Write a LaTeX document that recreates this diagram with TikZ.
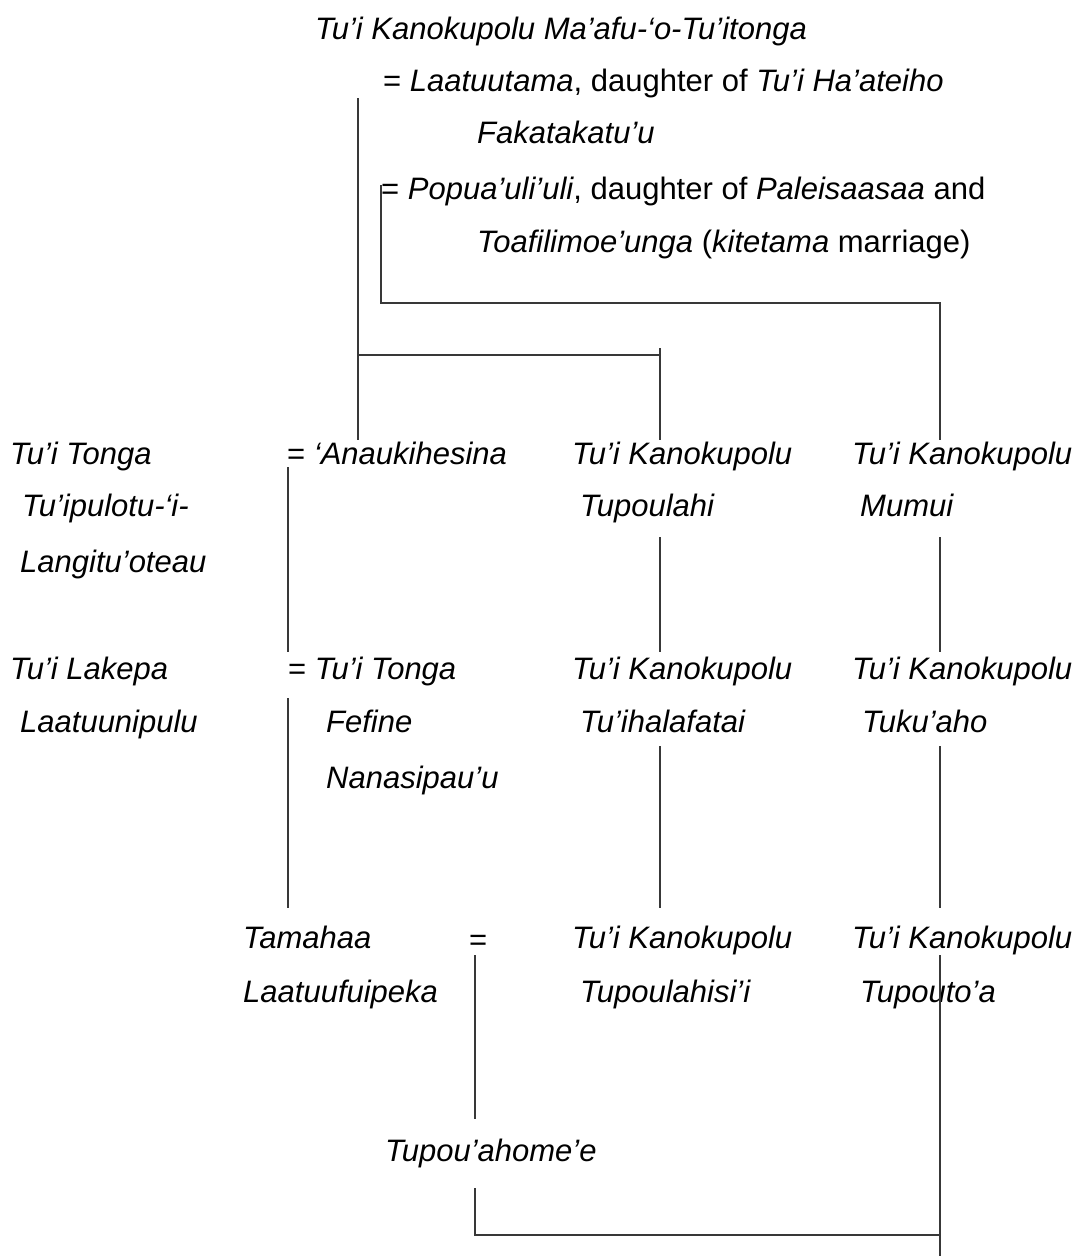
\documentclass[tikz,border=0pt]{standalone}
\usepackage{fontspec}
\setmainfont{Liberation Sans}
\begin{document}
\begin{tikzpicture}[x=1pt,y=-1pt,
  nm/.style={anchor=base west,inner sep=0pt,font=\fontsize{31}{36}\selectfont\itshape},
  tx/.style={anchor=base west,inner sep=0pt,font=\fontsize{31}{36}\selectfont},
  link/.style={line width=2pt,draw=black!78}]
\useasboundingbox (0,0) rectangle (1082,1256);

% founder and his two wives
\node[nm] (mafu) at (315,39) {Tu’i Kanokupolu Ma’afu-‘o-Tu’itonga};
\node[tx] (w1a) at (383,91) {= \textit{Laatuutama}, daughter of \textit{Tu’i Ha’ateiho}};
\node[nm] (w1b) at (477,143) {Fakatakatu’u};
\node[tx] (w2a) at (381,199) {= \textit{Popua’uli’uli}, daughter of \textit{Paleisaasaa} and};
\node[tx] (w2b) at (477,252) {\textit{Toafilimoe’unga} (\textit{kitetama} marriage)};

% second generation
\node[nm] (tonga) at (10,464) {Tu’i Tonga};
\node[nm] (tonga2) at (22,516) {Tu’ipulotu-‘i-};
\node[nm] (tonga3) at (20,572) {Langitu’oteau};
\node[tx] (anau) at (287,464) {= \textit{‘Anaukihesina}};
\node[nm] (tpl) at (572,464) {Tu’i Kanokupolu};
\node[nm] (tpl2) at (580,516) {Tupoulahi};
\node[nm] (mum) at (852,464) {Tu’i Kanokupolu};
\node[nm] (mum2) at (860,516) {Mumui};

% third generation
\node[nm] (lak) at (10,679) {Tu’i Lakepa};
\node[nm] (lak2) at (20,732) {Laatuunipulu};
\node[tx] (fef) at (288,679) {= \textit{Tu’i Tonga}};
\node[nm] (fef2) at (326,732) {Fefine};
\node[nm] (fef3) at (326,788) {Nanasipau’u};
\node[nm] (tuih) at (572,679) {Tu’i Kanokupolu};
\node[nm] (tuih2) at (580,732) {Tu’ihalafatai};
\node[nm] (tuk) at (852,679) {Tu’i Kanokupolu};
\node[nm] (tuk2) at (862,732) {Tuku’aho};

% fourth generation
\node[nm] (tam) at (243,948) {Tamahaa};
\node[nm] (tam2) at (243,1002) {Laatuufuipeka};
\node[tx] (eq) at (469,950) {=};
\node[nm] (tps) at (572,948) {Tu’i Kanokupolu};
\node[nm] (tps2) at (580,1002) {Tupoulahisi’i};
\node[nm] (tpt) at (852,948) {Tu’i Kanokupolu};
\node[nm] (tpt2) at (860,1002) {Tupouto’a};

% fifth generation
\node[nm] (aho) at (385,1161) {Tupou’ahome’e};

% junction points
\coordinate (a1) at (358,98);
\coordinate (a2) at (358,440);
\coordinate (a3) at (358,355);
\coordinate (b1) at (660,348);
\coordinate (b2) at (660,355);
\coordinate (b3) at (660,440);
\coordinate (c1) at (381,185);
\coordinate (c2) at (381,303);
\coordinate (c3) at (940,303);
\coordinate (c4) at (940,440);
\coordinate (d1) at (288,467);
\coordinate (d2) at (288,652);
\coordinate (d3) at (288,698);
\coordinate (d4) at (288,908);
\coordinate (e1) at (660,537);
\coordinate (e2) at (660,652);
\coordinate (e3) at (660,746);
\coordinate (e4) at (660,908);
\coordinate (f1) at (940,537);
\coordinate (f2) at (940,652);
\coordinate (f3) at (940,746);
\coordinate (f4) at (940,908);
\coordinate (g1) at (475,955);
\coordinate (g2) at (475,1119);
\coordinate (g3) at (475,1188);
\coordinate (g4) at (475,1235);
\coordinate (h1) at (940,955);
\coordinate (h2) at (940,1235);
\coordinate (h3) at (940,1256);

% descent lines
\draw[link] (a1) -- (a2);
\draw[link] (a3) -- (b2);
\draw[link] (b1) -- (b3);
\draw[link] (c1) -- (c2) -- (c3) -- (c4);
\draw[link] (d1) -- (d2);
\draw[link] (d3) -- (d4);
\draw[link] (e1) -- (e2);
\draw[link] (e3) -- (e4);
\draw[link] (f1) -- (f2);
\draw[link] (f3) -- (f4);
\draw[link] (g1) -- (g2);
\draw[link] (g3) -- (g4) -- (h2);
\draw[link] (h1) -- (h3);
\end{tikzpicture}
\end{document}
